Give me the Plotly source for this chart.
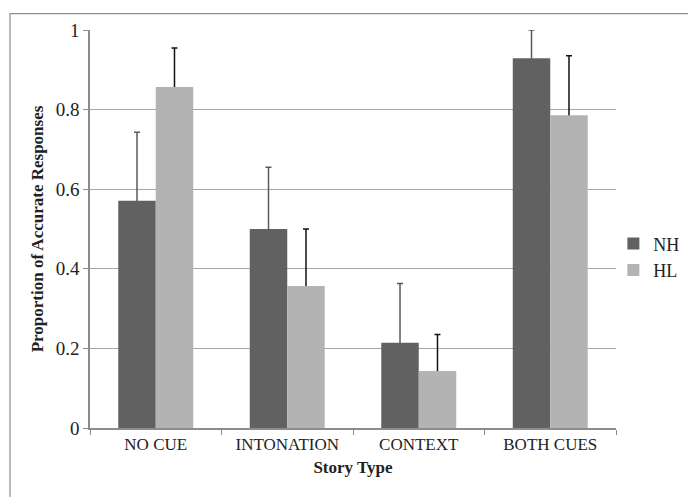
import plotly.graph_objects as go

categories = ["NO CUE", "INTONATION", "CONTEXT", "BOTH CUES"]
nh_values = [0.571, 0.500, 0.214, 0.929]
hl_values = [0.857, 0.357, 0.143, 0.786]
nh_err = [0.172, 0.155, 0.149, 0.071]
hl_err = [0.098, 0.143, 0.092, 0.149]
y_ticks = [0, 0.2, 0.4, 0.6, 0.8, 1]
y_ticklabels = ["0", "0.2", "0.4", "0.6", "0.8", "1"]

FONT = "Liberation Serif"
TXT = "#222222"

fig = go.Figure()
# error bars drawn first (transparent bars), real bars on top hide the lower half
for name, vals, err, ecol, grp in [("NH", nh_values, nh_err, "#5a5a5a", "a"),
                                   ("HL", hl_values, hl_err, "#111111", "b")]:
    fig.add_trace(go.Bar(
        name=name + "_err", x=categories, y=vals, offsetgroup=grp,
        marker=dict(color="rgba(0,0,0,0)", line=dict(width=0)),
        error_y=dict(type="data", array=err, symmetric=True,
                     color=ecol, thickness=1.5, width=3),
        showlegend=False, hoverinfo="skip", cliponaxis=False,
    ))
fig.add_trace(go.Bar(
    name="NH", x=categories, y=nh_values, offsetgroup="a",
    marker=dict(color="#616161", line=dict(width=0)),
))
fig.add_trace(go.Bar(
    name="HL", x=categories, y=hl_values, offsetgroup="b",
    marker=dict(color="#b3b3b3", line=dict(width=0)),
))

# page body has an 8px margin, so figure coordinates are offset by 8px
fig.update_layout(
    width=696, height=497,
    margin=dict(l=82, r=88, t=17, b=77),
    paper_bgcolor="white", plot_bgcolor="white",
    barmode="group", bargap=0.43, bargroupgap=0,
    font=dict(family=FONT, size=17, color=TXT),
    showlegend=True,
    legend=dict(x=0.995, xanchor="left", y=0.43, yanchor="middle",
                font=dict(family=FONT, size=18, color=TXT),
                itemwidth=30, tracegroupgap=0, bgcolor="rgba(0,0,0,0)"),
    xaxis=dict(
        showline=True, linecolor="#8c8c8c", linewidth=1.5,
        ticks="outside", ticklen=5, tickcolor="#8c8c8c", tickson="boundaries",
        showgrid=False,
        tickfont=dict(family=FONT, size=17, color=TXT),
        title=dict(text="<b>Story Type</b>", font=dict(family=FONT, size=17, color=TXT), standoff=8),
    ),
    yaxis=dict(
        range=[0, 1], tickvals=y_ticks, ticktext=y_ticklabels,
        showline=True, linecolor="#8c8c8c", linewidth=1.5,
        ticks="outside", ticklen=5, tickcolor="#8c8c8c",
        showgrid=True, gridcolor="#a6a6a6", gridwidth=1, zeroline=False,
        tickfont=dict(family=FONT, size=19, color=TXT),
        title=dict(text="<b>Proportion of Accurate Responses</b>", font=dict(family=FONT, size=17, color=TXT), standoff=8),
    ),
    shapes=[dict(type="rect", xref="paper", yref="paper",
                 x0=(2-82)/526, x1=(684-82)/526, y0=-0.3, y1=(420-0.5)/403,
                 line=dict(color="#8c8c8c", width=1.2), fillcolor="rgba(0,0,0,0)", layer="below")],
)

fig.write_html("out.html")
